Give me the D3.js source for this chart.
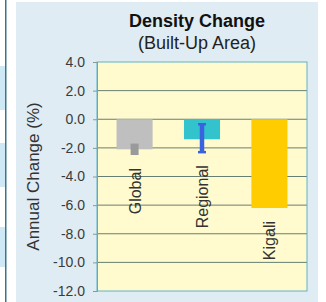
<!DOCTYPE html>
<html>
<head>
<meta charset="utf-8">
<script src="https://cdn.jsdelivr.net/npm/d3@7"></script>
<style>
  body { margin: 0; background: #ffffff; }
  svg { display: block; font-family: "Liberation Sans", Arial, sans-serif; }
</style>
</head>
<body>
<div id="chart"></div>
<script>
// data
const categories = ["Global", "Regional", "Kigali"];
const values = [-2.1, -1.4, -6.2];
const errLow = [-2.5, -2.3, null];
const errHigh = [-1.7, -0.35, null];
const yTicks = [4, 2, 0, -2, -4, -6, -8, -10, -12];

const barColors = ["#bfbfbf", "#33c3cc", "#ffcc00"];
const errColors = ["#9a9a9a", "#3a62e0", null];

const W = 326, H = 302;
const plot = { left: 97, right: 307, top: 62, bottom: 291 };

const svg = d3.select("#chart").append("svg")
  .attr("width", W)
  .attr("height", H);

// outer frame bits on the left
svg.append("rect").attr("x", 0).attr("y", 0).attr("width", W).attr("height", H).attr("fill", "#ffffff");
[[66, 44], [143, 44], [227, 40]].forEach(p => {
  svg.append("rect").attr("x", 0).attr("y", p[0]).attr("width", 5).attr("height", p[1]).attr("fill", "#cfe8f6");
});
svg.append("rect").attr("x", 5).attr("y", 0).attr("width", 1.5).attr("height", H).attr("fill", "#3b7688");

// chart panel
svg.append("rect")
  .attr("x", 16).attr("y", 2)
  .attr("width", 302).attr("height", H - 2)
  .attr("fill", "#dfecf3");

const y = d3.scaleLinear().domain([4, -12]).range([plot.top, plot.bottom]);
const x = d3.scaleBand()
  .domain(categories)
  .range([plot.left, plot.right])
  .paddingInner(0.465)
  .paddingOuter(0.29);

// plot area
svg.append("rect")
  .attr("x", plot.left).attr("y", plot.top)
  .attr("width", plot.right - plot.left).attr("height", plot.bottom - plot.top)
  .attr("fill", "#fffbcf");

// gridlines
svg.append("g")
  .selectAll("line")
  .data(yTicks.filter(d => d !== 4 && d !== -12))
  .join("line")
  .attr("x1", plot.left).attr("x2", plot.right)
  .attr("y1", d => y(d)).attr("y2", d => y(d))
  .attr("stroke", "#667f72")
  .attr("stroke-width", 1);

// plot border
svg.append("rect")
  .attr("x", plot.left).attr("y", plot.top)
  .attr("width", plot.right - plot.left).attr("height", plot.bottom - plot.top)
  .attr("fill", "none")
  .attr("stroke", "#5fb2c6")
  .attr("stroke-width", 1);

// y axis
const yAxis = svg.append("g")
  .attr("transform", `translate(${plot.left},0)`)
  .call(d3.axisLeft(y).tickValues(yTicks).tickFormat(d3.format(".1f")).tickSize(4).tickPadding(8));
yAxis.select(".domain").attr("stroke", "#8a9a96");
yAxis.selectAll(".tick line").attr("stroke", "#8a9a96");
yAxis.selectAll(".tick text")
  .attr("fill", "#3a3a3a")
  .style("font-size", "14px")
  .style("font-family", "'Liberation Sans', Arial, sans-serif")
  .text(d => d3.format(".1f")(d).replace("−", "-"));

// bars
svg.append("g")
  .selectAll("rect")
  .data(categories)
  .join("rect")
  .attr("x", d => x(d))
  .attr("y", (d, i) => y(Math.max(0, values[i])))
  .attr("width", x.bandwidth())
  .attr("height", (d, i) => Math.abs(y(values[i]) - y(0)))
  .attr("fill", (d, i) => barColors[i]);

// error bars
categories.forEach((c, i) => {
  if (errLow[i] === null) return;
  const cx = x(c) + x.bandwidth() / 2;
  const g = svg.append("g");
  if (i === 0) {
    g.append("rect")
      .attr("x", cx - 4).attr("y", y(errHigh[i]))
      .attr("width", 8).attr("height", y(errLow[i]) - y(errHigh[i]))
      .attr("fill", errColors[i]);
  } else {
    g.append("line")
      .attr("x1", cx).attr("x2", cx)
      .attr("y1", y(errHigh[i])).attr("y2", y(errLow[i]))
      .attr("stroke", errColors[i]).attr("stroke-width", 4.5);
    [errHigh[i], errLow[i]].forEach(v => {
      g.append("line")
        .attr("x1", cx - 4).attr("x2", cx + 4)
        .attr("y1", y(v)).attr("y2", y(v))
        .attr("stroke", errColors[i]).attr("stroke-width", 2.5);
    });
  }
});

// category labels under each bar
svg.append("g")
  .selectAll("text")
  .data(categories)
  .join("text")
  .attr("transform", (d, i) => {
    const low = errLow[i] === null ? values[i] : errLow[i];
    return `translate(${x(d) + x.bandwidth() / 2 + 6},${y(low) + 13}) rotate(-90)`;
  })
  .attr("text-anchor", "end")
  .attr("fill", "#333333")
  .style("font-size", "16px")
  .text(d => d);

// titles
svg.append("text")
  .attr("x", 197).attr("y", 27)
  .attr("text-anchor", "middle")
  .attr("fill", "#111111")
  .style("font-size", "18px")
  .style("font-weight", "bold")
  .text("Density Change");
svg.append("text")
  .attr("x", 197).attr("y", 49)
  .attr("text-anchor", "middle")
  .attr("fill", "#222222")
  .style("font-size", "18px")
  .text("(Built-Up Area)");

svg.append("text")
  .attr("transform", `translate(39,${(plot.top + plot.bottom) / 2}) rotate(-90)`)
  .attr("text-anchor", "middle")
  .attr("fill", "#333333")
  .style("font-size", "17px")
  .text("Annual Change (%)");
</script>
</body>
</html>
